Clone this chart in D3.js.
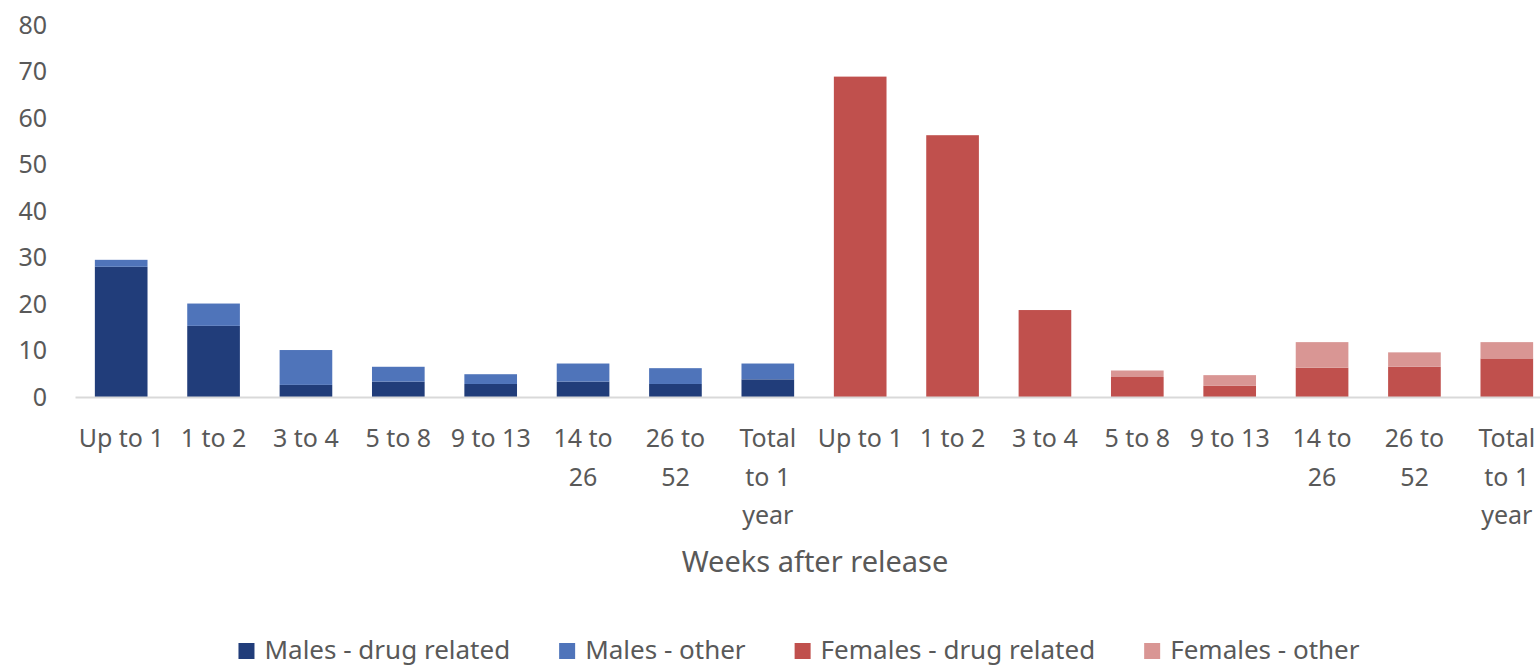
<!DOCTYPE html>
<html>
<head>
<meta charset="utf-8">
<script src="https://cdn.jsdelivr.net/npm/d3@7"></script>
<style>
  body { margin: 0; background: #ffffff; }
  svg { display: block; font-family: "Noto Sans", sans-serif; }
</style>
</head>
<body>
<div id="chart"></div>
<script>
// 週數分組（橫軸標籤，依原圖換行）
const weekLabels = [["Up to 1"], ["1 to 2"], ["3 to 4"], ["5 to 8"], ["9 to 13"], ["14 to", "26"], ["26 to", "52"], ["Total", "to 1", "year"]];

// 各組數值
const maleDrug    = [28.0, 15.3, 2.6, 3.3, 2.8, 3.3, 2.8, 3.8];
const maleOther   = [1.5, 4.8, 7.5, 3.2, 2.1, 3.9, 3.4, 3.4];
const femaleDrug  = [68.9, 56.3, 18.7, 4.3, 2.4, 6.3, 6.5, 8.3];
const femaleOther = [0, 0, 0, 1.4, 2.3, 5.5, 3.1, 3.5];

const yTicks = [0, 10, 20, 30, 40, 50, 60, 70, 80];
const seriesNames = ["Males - drug related", "Males - other", "Females - drug related", "Females - other"];
const seriesColors = ["#213d7a", "#4f74ba", "#c0504d", "#d99694"];

const width = 1540;
const height = 667;
const textColor = "#595959";

// 組成 16 根柱子的資料
const rows = [];
weekLabels.forEach((w, i) => rows.push({ key: "M" + i, label: w, drug: maleDrug[i], other: maleOther[i], sex: 0 }));
weekLabels.forEach((w, i) => rows.push({ key: "F" + i, label: w, drug: femaleDrug[i], other: femaleOther[i], sex: 1 }));

const svg = d3.select("#chart")
    .append("svg")
    .attr("width", width)
    .attr("height", height);

const x = d3.scaleBand()
    .domain(rows.map(d => d.key))
    .range([75, 1553])
    .paddingInner(0.43)
    .paddingOuter(0.215);

const y = d3.scaleLinear()
    .domain([0, 80])
    .range([397, 25]);

// y 軸
svg.append("g")
    .attr("transform", "translate(75,0)")
    .call(d3.axisLeft(y).tickValues(yTicks).tickSize(0).tickPadding(28))
    .call(g => g.select(".domain").remove())
    .call(g => g.selectAll(".tick text")
        .attr("fill", textColor)
        .attr("font-size", "25px")
        .attr("font-family", "'Noto Sans', sans-serif"));

// 堆疊
const stack = d3.stack().keys(["drug", "other"]);
const layers = stack(rows);

svg.append("g")
    .selectAll("g")
    .data(layers)
    .join("g")
    .selectAll("rect")
    .data((layer, li) => layer.map(d => ({ d, li })))
    .join("rect")
    .attr("x", p => x(p.d.data.key))
    .attr("width", x.bandwidth())
    .attr("y", p => y(p.d[1]))
    .attr("height", p => Math.max(0, y(p.d[0]) - y(p.d[1])))
    .attr("fill", p => seriesColors[p.d.data.sex * 2 + p.li]);

// x 軸
const xAxis = svg.append("g")
    .attr("transform", "translate(0,397)")
    .call(d3.axisBottom(x).tickSize(0).tickFormat(""));

xAxis.select(".domain")
    .attr("stroke", "#d9d9d9")
    .attr("stroke-width", 2);

// 多行標籤
const labelG = svg.append("g");
rows.forEach(r => {
    const cx = x(r.key) + x.bandwidth() / 2;
    const t = labelG.append("text")
        .attr("x", cx)
        .attr("y", 447)
        .attr("text-anchor", "middle")
        .attr("fill", textColor)
        .attr("font-size", "25px");
    r.label.forEach((ln, j) => {
        t.append("tspan")
            .attr("x", cx)
            .attr("dy", j === 0 ? 0 : 38.5)
            .text(ln);
    });
});

// 軸標題
svg.append("text")
    .attr("x", 815)
    .attr("y", 572)
    .attr("text-anchor", "middle")
    .attr("fill", textColor)
    .attr("font-size", "29px")
    .text("Weeks after release");

// 圖例
const legend = svg.append("g");
let lx = 0;
seriesNames.forEach((name, i) => {
    const item = legend.append("g").attr("transform", `translate(${lx},0)`);
    item.append("rect")
        .attr("x", 0)
        .attr("y", -8)
        .attr("width", 16)
        .attr("height", 16)
        .attr("fill", seriesColors[i]);
    const t = item.append("text")
        .attr("x", 26)
        .attr("y", 8)
        .attr("fill", textColor)
        .attr("font-size", "26px")
        .text(name);
    lx += 26 + t.node().getComputedTextLength() + 49;
});
const legendWidth = lx - 49;
legend.attr("transform", `translate(${799 - legendWidth / 2},651)`);
</script>
</body>
</html>
